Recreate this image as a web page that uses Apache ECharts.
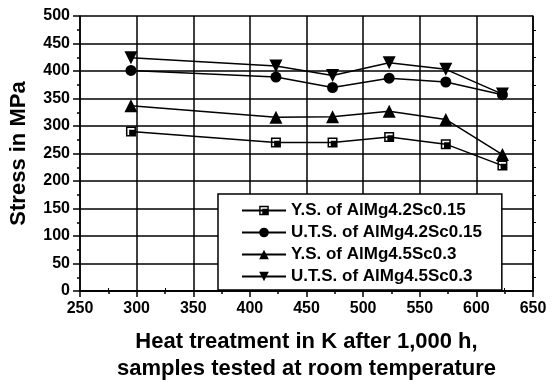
<!DOCTYPE html>
<html><head><meta charset="utf-8">
<script src="https://cdn.jsdelivr.net/npm/echarts@6/dist/echarts.min.js"></script>
<style>html,body{margin:0;padding:0;background:#fff}#c{width:552px;height:387px}</style>
</head><body><div id="c"></div>
<script>
const temps = [295, 423, 473, 523, 573, 623];
const ysSc015 = [290, 270, 270, 280, 267, 228];
const utsSc015 = [401, 389, 370, 387, 380, 357];
const ysSc03 = [337, 316, 317, 327, 312, 248];
const utsSc03 = [424, 409, 392, 415, 403, 358];
const names = ['Y.S. of AlMg4.2Sc0.15', 'U.T.S. of AlMg4.2Sc0.15', 'Y.S. of AlMg4.5Sc0.3', 'U.T.S. of AlMg4.5Sc0.3'];
const xTitle = 'Heat treatment in K after 1,000 h,\nsamples tested at room temperature';
const yTitle = 'Stress in MPa';

const F = 'Arial';
const W = 'bold';
const sq = 'path://M0,0L10,0L10,10L0,10Z M1.5,1.5L1.5,8.5L8.5,8.5L8.5,1.5Z M3.2,3.2L8.5,3.2L8.5,8.5L3.2,8.5Z';
function pts(v){ return temps.map((t,i)=>[t, v[i]]); }
function ser(name, data, symbol, size, rot){
  return {name, type:'line', data: pts(data), symbol, symbolSize:size, symbolRotate: rot||0,
    lineStyle:{color:'#000', width:1.5}, itemStyle:{color:'#000'}, z:5, animation:false};
}
const chart = echarts.init(document.getElementById('c'));
chart.setOption({
  animation:false,
  textStyle:{fontFamily:F, fontWeight:W},
  grid:{left:79, right:19, top:16, bottom:87},
  legend:{orient:'vertical', left:218, top:194, borderColor:'#000', borderWidth:1.5, backgroundColor:'#fff',
    padding:[8,20,5,23], itemWidth:44, itemHeight:12, itemGap:5,
    textStyle:{fontFamily:F, fontWeight:W, fontSize:17, color:'#000'},
    data: names},
  xAxis:[{type:'value', min:250, max:650, interval:50, position:'bottom',
    axisLine:{lineStyle:{color:'#000', width:1.5}},
    axisTick:{show:true, length:6, lineStyle:{color:'#000', width:1.5}},
    minorTick:{show:true, splitNumber:2, length:3, lineStyle:{color:'#000', width:1.5}},
    splitLine:{show:true, lineStyle:{color:'#000', width:1.5}},
    axisLabel:{fontFamily:F, fontWeight:W, fontSize:16, color:'#000', margin:10},
    name:xTitle, nameLocation:'middle', nameGap:37,
    nameTextStyle:{fontFamily:F, fontWeight:W, fontSize:22, color:'#000', lineHeight:27}},
   {type:'value', min:250, max:650, interval:50, position:'top',
    axisLine:{lineStyle:{color:'#000', width:1.5}}, axisTick:{show:false},
    minorTick:{show:true, splitNumber:2, length:3, lineStyle:{color:'#000', width:1}},
    splitLine:{show:false}, axisLabel:{show:false}}],
  yAxis:[{type:'value', min:0, max:500, interval:50,
    axisLine:{show:true, lineStyle:{color:'#000', width:1.5}},
    axisTick:{show:true, length:7, lineStyle:{color:'#000', width:1.5}},
    minorTick:{show:true, splitNumber:2, length:3, lineStyle:{color:'#000', width:1.5}},
    splitLine:{show:true, lineStyle:{color:'#000', width:1.5}},
    axisLabel:{fontFamily:F, fontWeight:W, fontSize:16, color:'#000', margin:10},
    name:yTitle, nameLocation:'middle', nameGap:50,
    nameTextStyle:{fontFamily:F, fontWeight:W, fontSize:22, color:'#000'}},
   {type:'value', min:0, max:500, interval:50, position:'right',
    axisLine:{show:true, lineStyle:{color:'#000', width:1.5}}, axisTick:{show:false},
    minorTick:{show:true, splitNumber:2, length:3, lineStyle:{color:'#000', width:1}},
    splitLine:{show:false}, axisLabel:{show:false}}],
  series:[
    ser(names[0], ysSc015, sq, 10),
    ser(names[1], utsSc015, 'circle', 11),
    ser(names[2], ysSc03, 'triangle', 13),
    ser(names[3], utsSc03, 'triangle', 13, 180)
  ]
});
</script></body></html>
